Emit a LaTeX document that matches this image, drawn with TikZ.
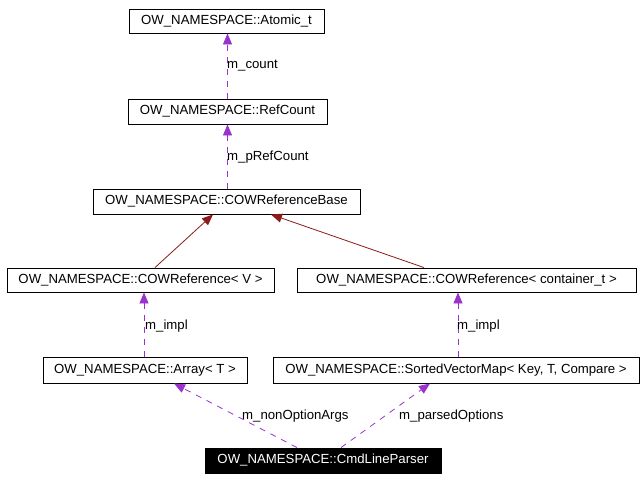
\documentclass[tikz,border=0pt]{standalone}
\usepackage{fontspec}
\setmainfont{Liberation Sans}
\usetikzlibrary{arrows.meta,calc}
\definecolor{memcol}{HTML}{9A32CD}
\definecolor{inhcol}{HTML}{8B1A1A}
\begin{document}
\begin{tikzpicture}[x=1pt,y=-1pt,
  box/.style={draw=black,line width=0.9pt,fill=white,inner sep=0pt,font=\fontsize{13.2}{15}\selectfont,anchor=center},
  member/.style={draw=memcol,line width=0.8pt,dash pattern=on 6pt off 6pt,-{Triangle[length=11pt,width=9pt,fill=memcol]}},
  inh/.style={draw=inhcol,line width=0.8pt,-{Triangle[length=11pt,width=9pt,fill=inhcol]}},
  lbl/.style={anchor=west,inner sep=0pt,font=\fontsize{13.2}{15}\selectfont}]
\useasboundingbox[fill=white] (0,0) rectangle (644,480);
\node[box,minimum width=195pt,minimum height=24pt] (atomic) at (226.5,21) {OW\_NAMESPACE::Atomic\_t};
\node[box,minimum width=199pt,minimum height=25pt] (refcount) at (227.5,111.5) {OW\_NAMESPACE::RefCount};
\node[box,minimum width=267pt,minimum height=25pt] (base) at (226.5,201.5) {OW\_NAMESPACE::COWReferenceBase};
\node[box,minimum width=267pt,minimum height=24pt] (cowv) at (140.5,280) {OW\_NAMESPACE::COWReference< V >};
\node[box,minimum width=339pt,minimum height=24pt] (cowc) at (466.5,280) {OW\_NAMESPACE::COWReference< container\_t >};
\node[box,minimum width=204pt,minimum height=26pt] (array) at (145,370) {OW\_NAMESPACE::Array< T >};
\node[box,minimum width=366pt,minimum height=26pt] (svm) at (456,370) {OW\_NAMESPACE::SortedVectorMap< Key, T, Compare >};
\node[box,fill=black,text=white,minimum width=236pt,minimum height=25pt] (cmd) at (323,460.5) {OW\_NAMESPACE::CmdLineParser};

\draw[member] (refcount.north) -- (refcount.north |- atomic.south);
\draw[member] (refcount.south |- base.north) -- (refcount.south);
\draw[inh] ([xshift=14.5pt]cowv.north) -- ([xshift=-13.5pt]base.south);
\draw[inh] ([xshift=-42.5pt]cowc.north) -- ([xshift=44.5pt]base.south);
\draw[member] ([xshift=-1pt]array.north) -- ([xshift=-1pt]array.north |- cowv.south);
\draw[member] ([xshift=2pt]svm.north) -- ([xshift=2pt]svm.north |- cowc.south);
\draw[member] ([xshift=-26pt]cmd.north) -- ([xshift=29pt]array.south);
\draw[member] ([xshift=18pt]cmd.north) -- ([xshift=-26pt]svm.south);

\node[lbl] (l1) at (227,66) {m\_count};
\node[lbl] (l2) at (227,157) {m\_pRefCount};
\node[lbl] (l3) at (145,326) {m\_impl};
\node[lbl] (l4) at (457,326) {m\_impl};
\node[lbl] (l5) at (242,416) {m\_nonOptionArgs};
\node[lbl] (l6) at (399,416) {m\_parsedOptions};
\end{tikzpicture}
\end{document}
